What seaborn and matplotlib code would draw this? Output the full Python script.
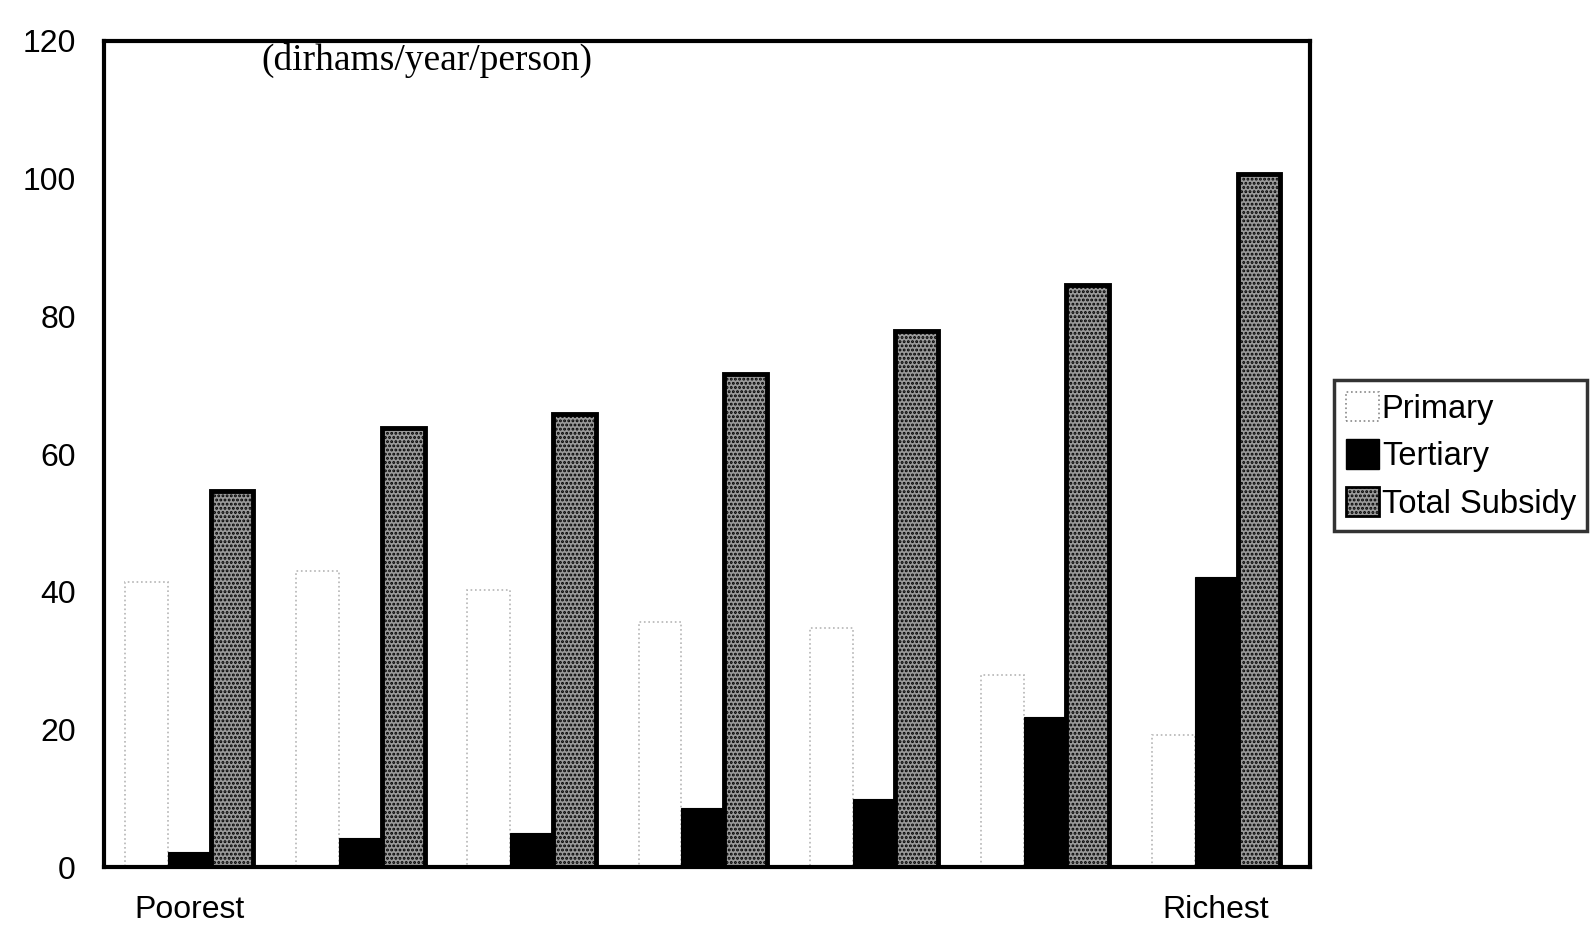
import pandas as pd
import matplotlib.pyplot as plt
import seaborn as sns
from matplotlib.patches import Patch

# values (dirhams/year/person)
groups = ['Poorest', 'G2', 'G3', 'G4', 'G5', 'G6', 'Richest']
tick_labels = ['Poorest', '', '', '', '', '', 'Richest']
series = ['Primary', 'Tertiary', 'Total Subsidy']
primary = [41.4, 43.0, 40.3, 35.6, 34.7, 28.0, 19.3]
tertiary = [2.3, 4.3, 5.0, 8.7, 10.0, 21.8, 42.1]
total = [54.6, 63.8, 65.8, 71.6, 77.8, 84.6, 100.7]

df = pd.DataFrame({
    'group': groups * 3,
    'series': [s for s in series for _ in groups],
    'value': primary + tertiary + total,
})

sns.set_style('white')
plt.rcParams['font.family'] = ['Liberation Sans', 'DejaVu Sans']
plt.rcParams['hatch.linewidth'] = 1.4
plt.rcParams['text.color'] = 'black'
plt.rcParams['xtick.color'] = 'black'
plt.rcParams['ytick.color'] = 'black'

fig = plt.figure(figsize=(15.96, 9.46), dpi=100)
ax = fig.add_axes([0.065, 0.083, 0.756, 0.874])

sns.barplot(data=df, x='group', y='value', hue='series', order=groups,
            hue_order=series, width=0.75, ax=ax, legend=False, saturation=1)

# style each series
styles = [
    dict(facecolor='white', edgecolor='#b5b5b5', linewidth=1.2, linestyle=':', hatch=None),
    dict(facecolor='black', edgecolor='black', linewidth=0.8, linestyle='-', hatch=None),
    dict(facecolor='#9a9a9a', edgecolor='black', linewidth=3.5, linestyle='-', hatch='....'),
]
for cont, st in zip(ax.containers, styles):
    for p in cont.patches:
        p.set_facecolor(st['facecolor'])
        p.set_edgecolor(st['edgecolor'])
        p.set_linewidth(st['linewidth'])
        p.set_linestyle(st['linestyle'])
        if st['hatch']:
            p.set_hatch(st['hatch'])

ax.set_ylim(0, 120)
ax.set_xlim(-0.5, 6.55)
ax.set_yticks(range(0, 121, 20))
ax.tick_params(axis='y', labelsize=23, length=0, pad=20)
ax.tick_params(axis='x', labelsize=23, length=0, pad=20)
ax.set_xticks(range(len(groups)))
ax.set_xticklabels(tick_labels)
ax.set_xlabel('')
ax.set_ylabel('')
for sp in ax.spines.values():
    sp.set_linewidth(3)
    sp.set_color('black')

ax.text(0.131, 0.997, '(dirhams/year/person)', transform=ax.transAxes,
        family=['Liberation Serif', 'DejaVu Serif'], fontsize=27, va='top')

handles = [Patch(facecolor='white', edgecolor='#888888', linestyle=':', linewidth=1.2),
           Patch(facecolor='black', edgecolor='black'),
           Patch(facecolor='#9a9a9a', edgecolor='black', linewidth=2, hatch='....')]
leg = ax.legend(handles, series, loc='center left', bbox_to_anchor=(1.02, 0.498),
                fontsize=23.5, frameon=True, fancybox=False, handlelength=1.0,
                handleheight=1.0, handletextpad=0.1, borderpad=0.35,
                labelspacing=0.45, borderaxespad=0)
leg.get_frame().set_edgecolor('black')
leg.get_frame().set_linewidth(2.5)

plt.savefig('out.png', dpi=100)
